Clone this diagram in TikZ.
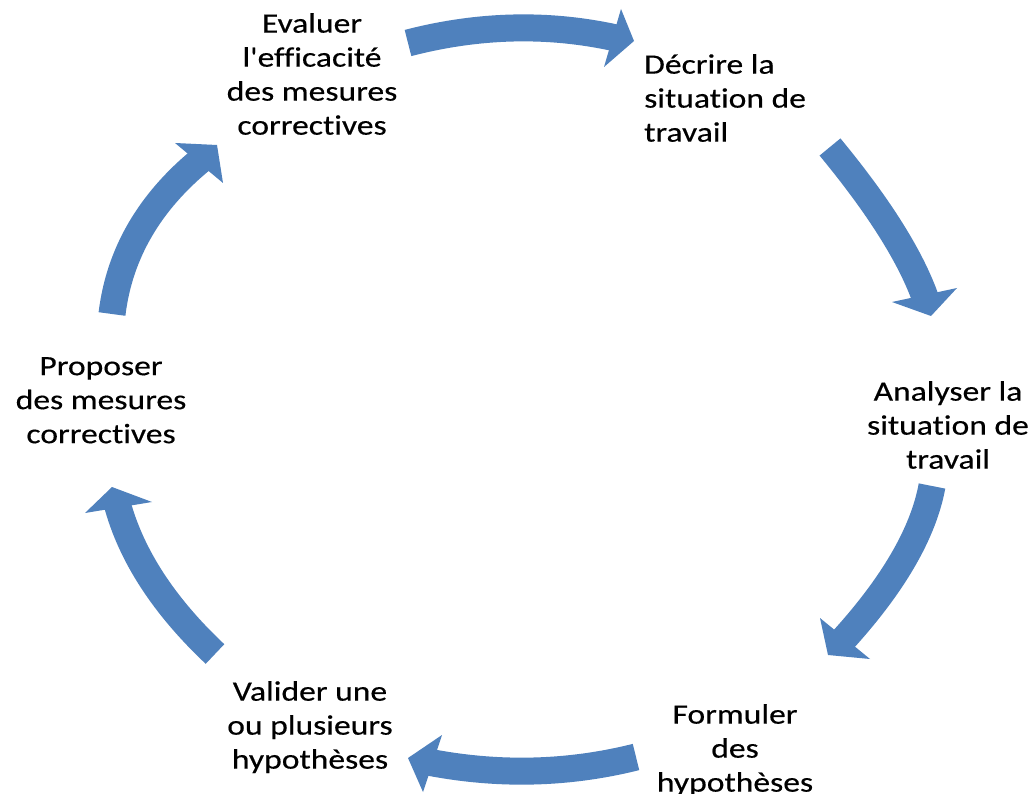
\documentclass[tikz,border=0pt]{standalone}
\usepackage{fontspec}
\newfontfamily\lblfamily{Carlito}[FakeStretch=1.2, FakeBold=0.35, Ligatures=NoCommon]
\definecolor{arrowblue}{HTML}{4F81BD}
\begin{document}
\begin{tikzpicture}[x=1pt,y=-1pt,
  lbl/.style={font=\lblfamily\fontsize{28}{34}\selectfont, inner sep=0pt, align=center, text=black},
  body/.style={draw=arrowblue, line width=27pt, line cap=butt},
  head/.style={fill=arrowblue, draw=none}]
\useasboundingbox (0,0) rectangle (1033,794);
\fill[white] (0,0) rectangle (1033,794);

% labels
\node[lbl, anchor=north] (eval) at (312,13) {Evaluer\\l'efficacité\\des mesures\\correctives};
\node[lbl, anchor=north west, align=left] (decr) at (644,54) {Décrire la\\situation de\\travail};
\node[lbl, anchor=north] (anal) at (948,381) {Analyser la\\situation de\\travail};
\node[lbl, anchor=north] (form) at (735,704) {Formuler\\des\\hypothèses};
\node[lbl, anchor=north] (vali) at (310,681) {Valider une\\ou plusieurs\\hypothèses};
\node[lbl, anchor=north] (prop) at (101,357) {Proposer\\des mesures\\correctives};

% arrow points: tail, two controls, end
\coordinate (a1t) at (408,43);  \coordinate (a1p) at (478.7,24.7); \coordinate (a1q) at (548,23);     \coordinate (a1e) at (616,38);
\coordinate (a2t) at (830,147); \coordinate (a2p) at (879.3,206.7); \coordinate (a2q) at (911.3,257.7); \coordinate (a2e) at (926,300);
\coordinate (a3t) at (932,486); \coordinate (a3p) at (923.3,533);   \coordinate (a3q) at (893.3,584.7); \coordinate (a3e) at (842,641);
\coordinate (a4t) at (636,757); \coordinate (a4p) at (568,774);     \coordinate (a4q) at (498.7,775.7); \coordinate (a4e) at (428,762);
\coordinate (a5t) at (215,654); \coordinate (a5p) at (163.7,605.7); \coordinate (a5q) at (131,555.3);   \coordinate (a5e) at (117,503);
\coordinate (a6t) at (112,314); \coordinate (a6p) at (119.3,253.7); \coordinate (a6q) at (149.3,202);   \coordinate (a6e) at (202,159);

% bodies
\draw[body] (a1t) .. controls (a1p) and (a1q) .. (a1e);
\draw[body] (a2t) .. controls (a2p) and (a2q) .. (a2e);
\draw[body] (a3t) .. controls (a3p) and (a3q) .. (a3e);
\draw[body] (a4t) .. controls (a4p) and (a4q) .. (a4e);
\draw[body] (a5t) .. controls (a5p) and (a5q) .. (a5e);
\draw[body] (a6t) .. controls (a6p) and (a6q) .. (a6e);

% heads
\fill[head] (621,9) -- (634,41) -- (604,67) -- cycle;
\fill[head] (892,302) -- (931,316) -- (957,288) -- cycle;
\fill[head] (870,659) -- (828,655) -- (820,618) -- cycle;
\fill[head] (442,735) -- (408,758) -- (423,792) -- cycle;
\fill[head] (152,502) -- (112,487) -- (85,513) -- cycle;
\fill[head] (175,143) -- (217,145) -- (223,183) -- cycle;
\end{tikzpicture}
\end{document}
